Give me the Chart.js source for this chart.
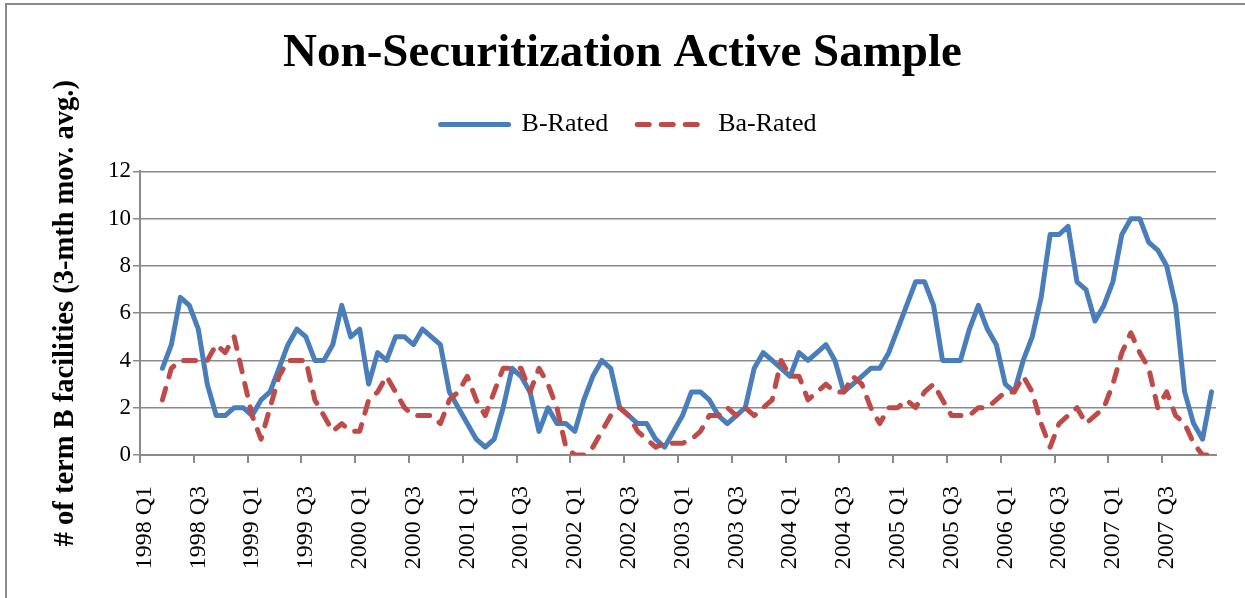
<!DOCTYPE html>
<html>
<head>
<meta charset="utf-8">
<script src="https://cdn.jsdelivr.net/npm/chart.js@4"></script>
<style>
  html, body { margin: 0; padding: 0; background: #fff; overflow: hidden; }
  #wrap { position: relative; width: 1245px; height: 598px; }
  #frame { position: absolute; left: 5px; top: 3px; width: 1400px; height: 800px;
           border-left: 2px solid #8a8a8a; border-top: 2px solid #8a8a8a; pointer-events: none; }
</style>
</head>
<body>
<div id="wrap">
  <canvas id="chart" width="1245" height="598"></canvas>
  <div id="frame"></div>
</div>
<script>
// one category per month, 1998-01 .. 2007-12
const years = [1998, 1999, 2000, 2001, 2002, 2003, 2004, 2005, 2006, 2007];
const categories = [];
years.forEach(y => {
    for (let m = 1; m <= 12; m++) categories.push(y + '-' + m);
});

// tick labels shown every 6 months
const tickLabels = [
    '1998 Q1', '1998 Q3', '1999 Q1', '1999 Q3', '2000 Q1', '2000 Q3',
    '2001 Q1', '2001 Q3', '2002 Q1', '2002 Q3', '2003 Q1', '2003 Q3',
    '2004 Q1', '2004 Q3', '2005 Q1', '2005 Q3', '2006 Q1', '2006 Q3',
    '2007 Q1', '2007 Q3'
];

// 3-month moving averages (first two months have none)
const bRated = [
    null, null, 3.67, 4.67, 6.67, 6.33, 5.33, 3.0, 1.67, 1.67, 2.0, 2.0,
    1.67, 2.33, 2.67, 3.67, 4.67, 5.33, 5.0, 4.0, 4.0, 4.67, 6.33, 5.0,
    5.33, 3.0, 4.33, 4.0, 5.0, 5.0, 4.67, 5.33, 5.0, 4.67, 2.67, 2.0,
    1.33, 0.67, 0.33, 0.67, 2.0, 3.67, 3.33, 2.67, 1.0, 2.0, 1.33, 1.33,
    1.0, 2.33, 3.33, 4.0, 3.67, 2.0, 1.67, 1.33, 1.33, 0.67, 0.33, 1.0,
    1.67, 2.67, 2.67, 2.33, 1.67, 1.33, 1.67, 2.0, 3.67, 4.33, 4.0, 3.67,
    3.33, 4.33, 4.0, 4.33, 4.67, 4.0, 2.67, 3.0, 3.33, 3.67, 3.67, 4.33,
    5.33, 6.33, 7.33, 7.33, 6.33, 4.0, 4.0, 4.0, 5.33, 6.33, 5.33, 4.67,
    3.0, 2.67, 4.0, 5.0, 6.67, 9.33, 9.33, 9.67, 7.33, 7.0, 5.67, 6.33,
    7.33, 9.33, 10.0, 10.0, 9.0, 8.67, 8.0, 6.33, 2.67, 1.33, 0.67, 2.67
];

const baRated = [
    null, null, 2.33, 3.67, 4.0, 4.0, 4.0, 4.0, 4.67, 4.33, 5.0, 3.33,
    1.67, 0.67, 2.0, 3.33, 4.0, 4.0, 4.0, 2.33, 1.67, 1.0, 1.33, 1.0,
    1.0, 2.33, 2.67, 3.33, 2.67, 2.0, 1.67, 1.67, 1.67, 1.33, 2.33, 2.67,
    3.33, 2.33, 1.67, 2.67, 3.67, 3.67, 3.67, 2.67, 3.67, 3.0, 2.0, 0.33,
    0.0, 0.0, 0.33, 1.0, 1.67, 2.0, 1.67, 1.0, 0.67, 0.33, 0.5, 0.5,
    0.5, 0.67, 1.0, 1.67, 1.67, 2.0, 1.67, 2.0, 1.67, 2.0, 2.33, 4.0,
    3.33, 3.33, 2.33, 2.67, 3.0, 2.67, 2.67, 3.33, 3.0, 2.0, 1.33, 2.0,
    2.0, 2.33, 2.0, 2.67, 3.0, 2.33, 1.67, 1.67, 1.67, 2.0, 2.0, 2.33,
    2.67, 2.67, 3.33, 2.67, 1.33, 0.33, 1.33, 1.67, 2.0, 1.33, 1.67, 2.0,
    3.0, 4.33, 5.17, 4.33, 3.67, 2.0, 2.67, 1.67, 1.33, 0.5, 0.0, 0.0
];

const GRID = '#8a8a8a';
const SERIF = "'Liberation Serif', 'Times New Roman', serif";

// push the plot area down below the legend, nudge the legend row right
const legendSpace = {
    id: 'legendSpace',
    beforeInit(chart) {
        const fit = chart.legend.fit;
        chart.legend.fit = function () {
            fit.call(this);
            this.height += 24;
            this.lineWidths = this.lineWidths.map(w => w - 12);
        };
    }
};

const ctx = document.getElementById('chart').getContext('2d');

new Chart(ctx, {
    type: 'line',
    data: {
        labels: categories,
        datasets: [
            {
                label: 'B-Rated',
                data: bRated,
                borderColor: '#4a7ebb',
                backgroundColor: '#4a7ebb',
                borderWidth: 5,
                borderCapStyle: 'round',
                borderJoinStyle: 'round',
                pointRadius: 0,
                tension: 0,
                fill: false,
                order: 1,
            },
            {
                label: 'Ba-Rated',
                data: baRated,
                borderColor: '#be4b48',
                backgroundColor: '#be4b48',
                borderWidth: 5,
                borderDash: [12, 12],
                borderCapStyle: 'round',
                borderJoinStyle: 'round',
                pointRadius: 0,
                tension: 0,
                fill: false,
                order: 0,   // dashes sit on top of the blue line
            },
        ],
    },
    options: {
        responsive: false,
        animation: false,
        devicePixelRatio: 1,
        layout: { padding: 0 },
        plugins: {
            title: {
                display: true,
                text: 'Non-Securitization Active Sample',
                color: '#000',
                font: { family: SERIF, size: 47, weight: 'bold' },
                padding: { top: 26, bottom: 0 },
            },
            legend: {
                display: true,
                labels: {
                    color: '#000',
                    font: { family: SERIF, size: 26 },
                    usePointStyle: true,
                    pointStyle: 'line',
                    pointStyleWidth: 68,
                    boxWidth: 68,
                    padding: 29,
                    sort: (a, b) => a.datasetIndex - b.datasetIndex,
                    // keep the dash pattern on the legend line samples
                    generateLabels: (chart) => {
                        const items = Chart.defaults.plugins.legend.labels.generateLabels(chart);
                        return items.map(item => {
                            const ds = chart.data.datasets[item.datasetIndex];
                            item.strokeStyle = ds.borderColor;
                            item.lineWidth = ds.borderWidth;
                            item.lineDash = ds.borderDash || [];
                            item.lineCap = 'round';
                            return item;
                        });
                    },
                },
            },
            tooltip: { enabled: false },
        },
        scales: {
            x: {
                type: 'category',
                offset: true,
                afterFit: (scale) => {
                    scale.height = 143;
                    scale.paddingLeft = 0;
                    scale.paddingRight = 29;   // plot ends at x = 1216
                },
                border: { display: true, color: GRID, width: 2 },
                grid: {
                    offset: true,
                    drawOnChartArea: false,
                    drawTicks: true,
                    tickLength: 8,
                    lineWidth: 2,
                    color: (c) => (c.index % 6 === 0 ? GRID : 'rgba(0,0,0,0)'),
                },
                ticks: {
                    autoSkip: false,
                    maxRotation: 90,
                    minRotation: 90,
                    padding: 23,
                    color: '#000',
                    font: { family: SERIF, size: 24 },
                    callback: (value, index) => (index % 6 === 0 ? tickLabels[index / 6] : ''),
                },
            },
            y: {
                min: 0,
                max: 12,
                afterFit: (scale) => { scale.width = 140; },
                border: { display: true, color: GRID, width: 2 },
                grid: {
                    color: GRID,
                    lineWidth: 1.5,
                    tickLength: 7,
                },
                ticks: {
                    stepSize: 2,
                    padding: 2,
                    color: '#000',
                    font: { family: SERIF, size: 23 },
                },
                title: {
                    display: true,
                    text: '# of term B facilities (3-mth mov. avg.)',
                    color: '#000',
                    font: { family: SERIF, size: 28.5, weight: 'bold' },
                    padding: { top: 49, bottom: 0 },
                },
            },
        },
    },
    plugins: [legendSpace],
});
</script>
</body>
</html>
